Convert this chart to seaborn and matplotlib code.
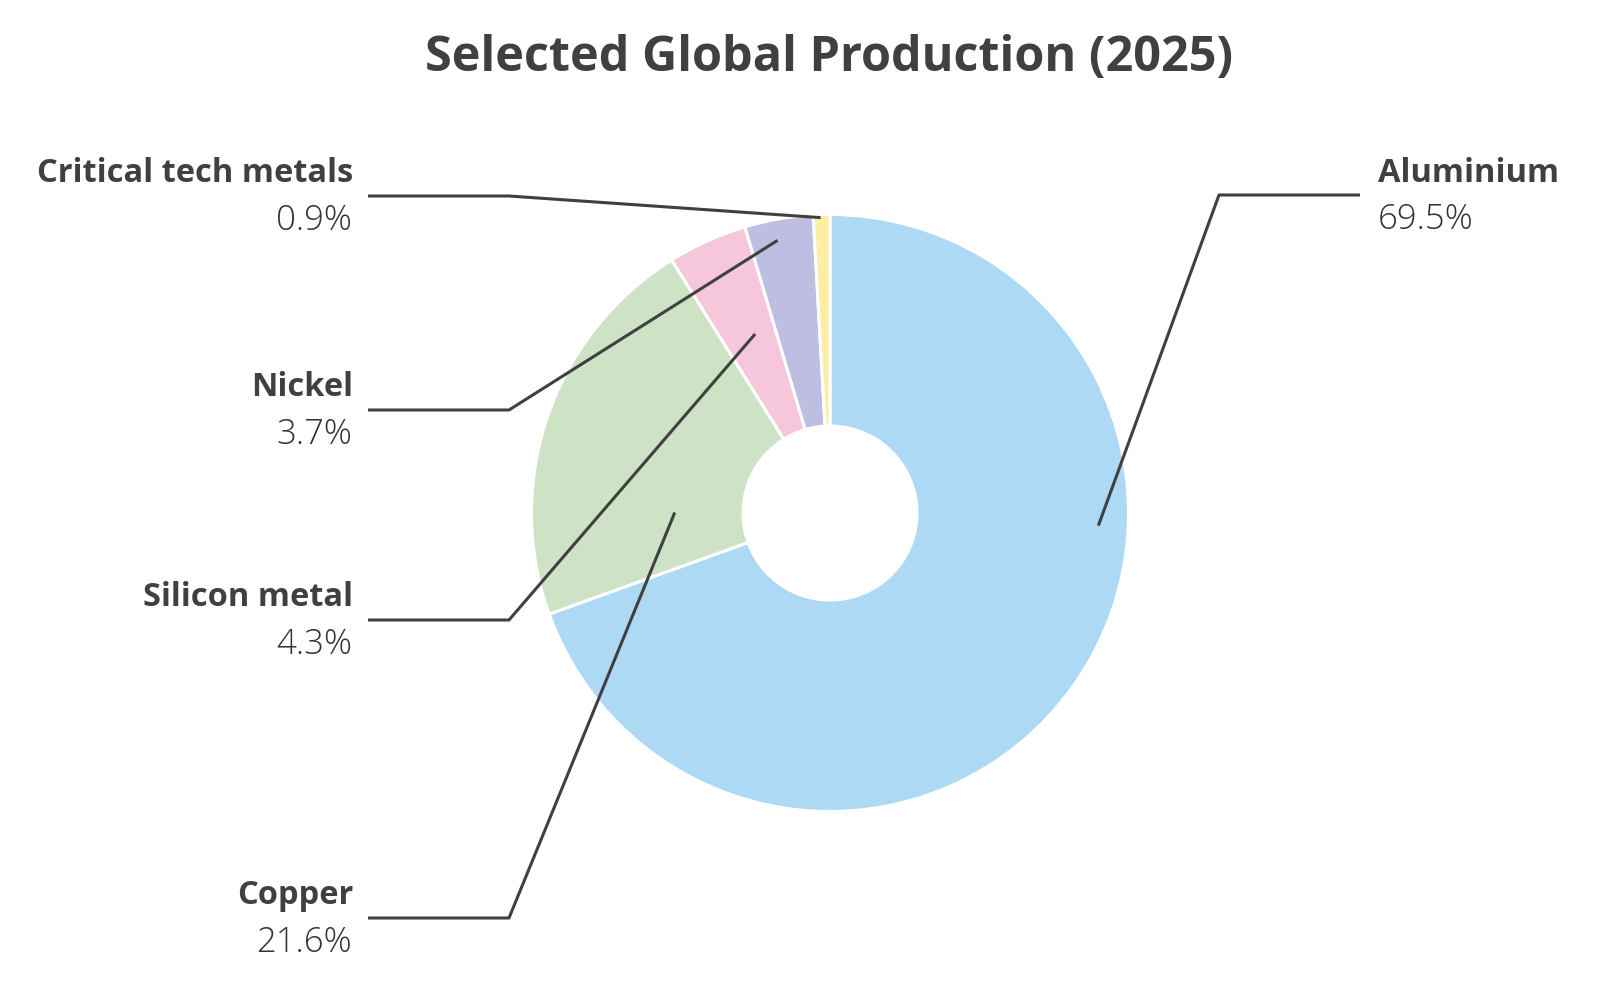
import numpy as np
import matplotlib.pyplot as plt
import seaborn as sns

# data
metals = ["Aluminium", "Copper", "Silicon metal", "Nickel", "Critical tech metals"]
shares = [69.5, 21.6, 4.3, 3.7, 0.9]
colors = ["#ADD9F4", "#CEE3C6", "#F6C7DA", "#BEBEE2", "#FCEEA2"]

# label layout: (side, label y in px from top, anchor angle offset deg, anchor radius fraction)
layout = {
    "Aluminium": ("right", 196, 32.4, 0.90),
    "Copper": ("left", 919, 18.9, 0.52),
    "Silicon metal": ("left", 621, -1.6, 0.65),
    "Nickel": ("left", 411, 1.0, 0.93),
    "Critical tech metals": ("left", 197, 0.2, 0.99),
}

sns.set_theme(style="white")
plt.rcParams["font.family"] = ["Open Sans", "DejaVu Sans"]
text_color = "#404040"

W, H = 1603, 1004
fig = plt.figure(figsize=(W / 100, H / 100), dpi=100)
ax = fig.add_axes([0, 0, 1, 1])

cx, cy = 830, H - 514
R = 298.5
hole = 87

wedges, _ = ax.pie(
    shares, colors=colors, startangle=90, counterclock=False,
    center=(cx, cy), radius=R, frame=True,
    wedgeprops=dict(width=R - hole, edgecolor="white", linewidth=2.2),
)
ax.set_xlim(0, W)
ax.set_ylim(0, H)
ax.set_aspect("equal")
ax.axis("off")

for w, name, val in zip(wedges, metals, shares):
    side, ly, off, rf = layout[name]
    mid = (w.theta1 + w.theta2) / 2 + off
    ax_x = cx + rf * R * np.cos(np.radians(mid))
    ax_y = cy + rf * R * np.sin(np.radians(mid))
    yy = H - ly
    if side == "right":
        elbow_x, end_x, tx, ha = 1219, 1360, 1378, "left"
    else:
        elbow_x, end_x, tx, ha = 509, 368, 353, "right"
    ax.plot([ax_x, elbow_x, end_x], [ax_y, yy, yy], color=text_color, lw=2.2,
            solid_capstyle="butt", zorder=5)
    ax.text(tx, yy + 23, name, ha=ha, va="center", fontsize=23.5,
            fontweight="bold", color=text_color)
    ax.text(tx - (1 if side == "left" else 0), yy - 24, f"{val}%", ha=ha, va="center",
            fontsize=25, fontweight="light", color="#333333")

ax.text(829, H - 59, "Selected Global Production (2025)", ha="center", va="center",
        fontsize=35, fontweight="bold", color=text_color)

fig.savefig("out.png", dpi=100)
